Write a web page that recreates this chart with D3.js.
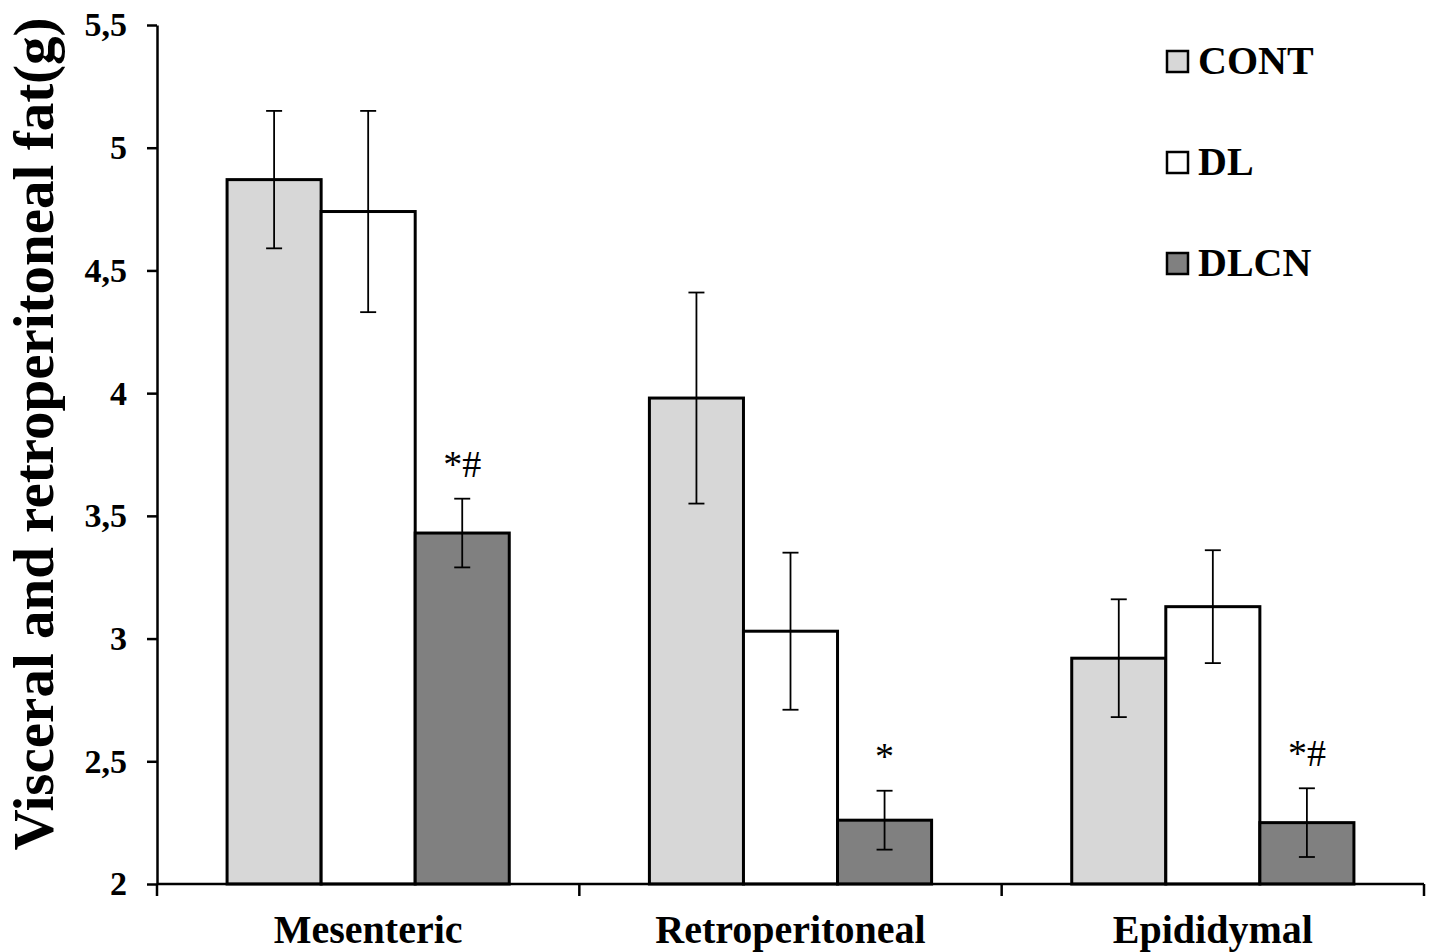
<!DOCTYPE html>
<html>
<head>
<meta charset="utf-8">
<script src="https://cdn.jsdelivr.net/npm/d3@7"></script>
<style>
  html, body { margin: 0; padding: 0; background: #fff; }
  svg text { font-family: "Liberation Serif", "Times New Roman", serif; }
</style>
</head>
<body>
<svg id="chart" width="1432" height="952"></svg>
<script>
// data
const categories = ["Mesenteric", "Retroperitoneal", "Epididymal"];
const seriesNames = ["CONT", "DL", "DLCN"];
const contMean = [4.87, 3.98, 2.92];
const contLow  = [4.59, 3.55, 2.68];
const contHigh = [5.15, 4.41, 3.16];
const dlMean   = [4.74, 3.03, 3.13];
const dlLow    = [4.33, 2.71, 2.90];
const dlHigh   = [5.15, 3.35, 3.36];
const dlcnMean = [3.43, 2.26, 2.25];
const dlcnLow  = [3.29, 2.14, 2.11];
const dlcnHigh = [3.57, 2.38, 2.39];
const dlcnMarks = ["*#", "*", "*#"];
const yTicks = [2, 2.5, 3, 3.5, 4, 4.5, 5, 5.5];

const colors = { CONT: "#d7d7d7", DL: "#ffffff", DLCN: "#808080" };

const rows = [];
categories.forEach((c, i) => {
  rows.push({ cat: c, s: "CONT", v: contMean[i], lo: contLow[i], hi: contHigh[i], mark: "" });
  rows.push({ cat: c, s: "DL", v: dlMean[i], lo: dlLow[i], hi: dlHigh[i], mark: "" });
  rows.push({ cat: c, s: "DLCN", v: dlcnMean[i], lo: dlcnLow[i], hi: dlcnHigh[i], mark: dlcnMarks[i] });
});

const svg = d3.select("#chart");
const margin = { top: 25, right: 8, bottom: 68, left: 157 };
const width = 1432 - margin.left - margin.right,
      height = 952 - margin.top - margin.bottom;

const g = svg.append("g")
  .attr("transform", "translate(" + margin.left + "," + margin.top + ")");

const x0 = d3.scaleBand().domain(categories).range([0, width]).padding(0);
const x1 = d3.scaleBand().domain(seriesNames).range([0, x0.bandwidth()])
  .paddingInner(0).paddingOuter(0.745);
const y = d3.scaleLinear().domain([2, 5.5]).range([height, 0]);

// y axis
const yAxis = g.append("g")
  .call(d3.axisLeft(y).tickValues(yTicks).tickSize(10).tickSizeOuter(0).tickPadding(20)
    .tickFormat(d => String(d).replace(".", ",")));
yAxis.select(".domain").attr("stroke", "#000").attr("stroke-width", 2.5);
yAxis.selectAll(".tick line").attr("stroke", "#000").attr("stroke-width", 2.5);
yAxis.selectAll(".tick text")
  .style("font-family", "'Liberation Serif', serif")
  .style("font-size", "34px").style("font-weight", "bold").attr("fill", "#000");

// bars
const bars = g.selectAll(".bar")
  .data(rows)
  .enter().append("rect")
  .attr("class", "bar")
  .attr("x", d => x0(d.cat) + x1(d.s))
  .attr("y", d => y(d.v))
  .attr("width", x1.bandwidth())
  .attr("height", d => y(2) - y(d.v))
  .attr("fill", d => colors[d.s])
  .attr("stroke", "#000")
  .attr("stroke-width", 3);

// error bars
const capW = 8;
const err = g.selectAll(".err")
  .data(rows)
  .enter().append("g")
  .attr("class", "err")
  .attr("transform", d => "translate(" + (x0(d.cat) + x1(d.s) + x1.bandwidth() / 2) + ",0)");
err.append("line").attr("x1", 0).attr("x2", 0)
  .attr("y1", d => y(d.hi)).attr("y2", d => y(d.lo));
err.append("line").attr("x1", -capW).attr("x2", capW)
  .attr("y1", d => y(d.hi)).attr("y2", d => y(d.hi));
err.append("line").attr("x1", -capW).attr("x2", capW)
  .attr("y1", d => y(d.lo)).attr("y2", d => y(d.lo));
err.selectAll("line").attr("stroke", "#000").attr("stroke-width", 1.8);

// significance marks
g.selectAll(".mark")
  .data(rows.filter(d => d.mark))
  .enter().append("text")
  .attr("class", "mark")
  .attr("x", d => x0(d.cat) + x1(d.s) + x1.bandwidth() / 2)
  .attr("y", d => y(d.hi) - 22)
  .attr("text-anchor", "middle")
  .style("font-size", "38px")
  .text(d => d.mark);

// x axis
g.append("line")
  .attr("x1", 0).attr("x2", width)
  .attr("y1", height).attr("y2", height)
  .attr("stroke", "#000").attr("stroke-width", 2.5);
const bounds = categories.map(c => x0(c)).concat([width]);
g.selectAll(".xtick")
  .data(bounds)
  .enter().append("line")
  .attr("class", "xtick")
  .attr("x1", d => d).attr("x2", d => d)
  .attr("y1", height).attr("y2", height + 12)
  .attr("stroke", "#000").attr("stroke-width", 2.5);
g.selectAll(".xlabel")
  .data(categories)
  .enter().append("text")
  .attr("class", "xlabel")
  .attr("x", d => x0(d) + x0.bandwidth() / 2)
  .attr("y", height + 59)
  .attr("text-anchor", "middle")
  .style("font-size", "40px").style("font-weight", "bold")
  .text(d => d);

// y label
svg.append("text")
  .attr("transform", "translate(53,434) rotate(-90)")
  .attr("text-anchor", "middle")
  .style("font-size", "57px").style("font-weight", "bold")
  .text("Visceral and retroperitoneal fat(g)");

// legend
const legend = svg.append("g").attr("transform", "translate(1167,51)");
const li = legend.selectAll(".li")
  .data(seriesNames)
  .enter().append("g")
  .attr("class", "li")
  .attr("transform", (d, i) => "translate(0," + (i * 101) + ")");
li.append("rect")
  .attr("width", 21).attr("height", 21)
  .attr("fill", d => colors[d])
  .attr("stroke", "#000").attr("stroke-width", 2.5);
li.append("text")
  .attr("x", 31).attr("y", 23)
  .style("font-size", "40px").style("font-weight", "bold")
  .text(d => d);
</script>
</body>
</html>
